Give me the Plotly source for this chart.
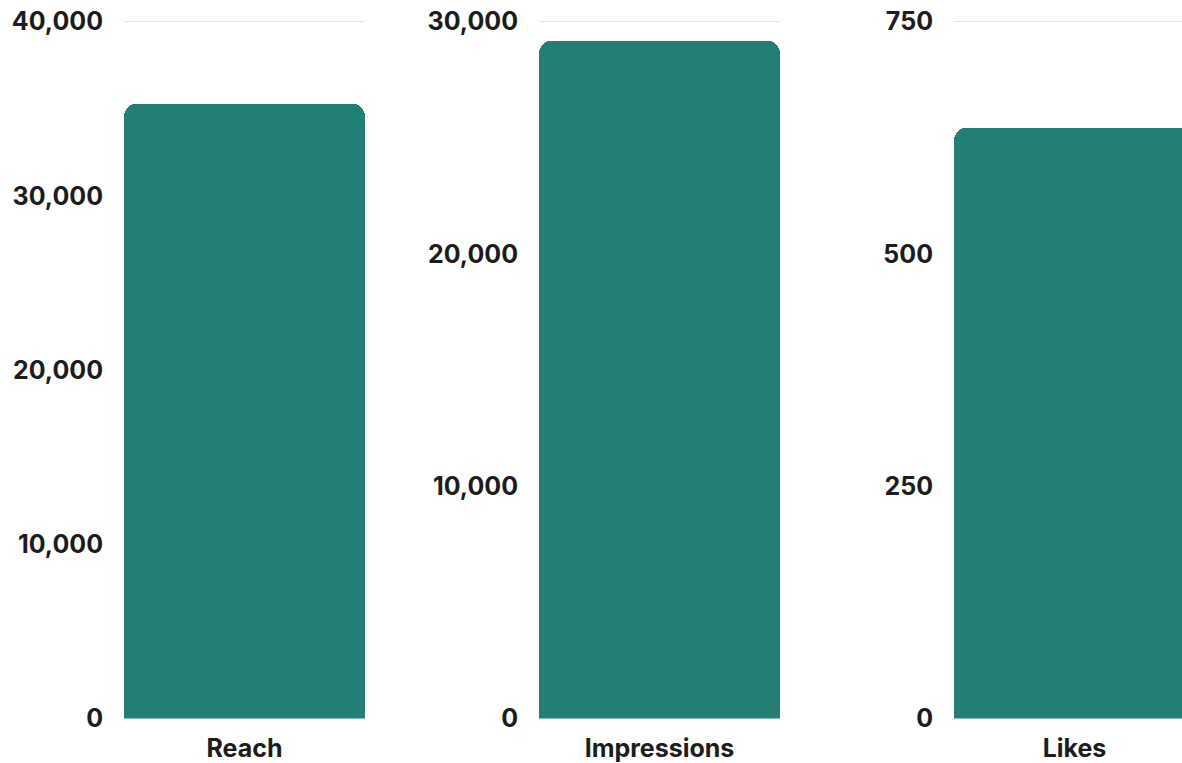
import plotly.graph_objects as go

metrics = ["Reach", "Impressions", "Likes"]
values = [35300, 29200, 636]
ranges = [40000, 30000, 750]
tick_vals = [[0, 10000, 20000, 30000, 40000],
             [0, 10000, 20000, 30000],
             [0, 250, 500, 750]]
tick_text = [["0", "10,000", "20,000", "30,000", "40,000"],
             ["0", "10,000", "20,000", "30,000"],
             ["0", "250", "500", "750"]]

W, H = 1182, 763
BAR_COLOR = "#217f75"
TEXT = "#1c1c1c"
FONT = "Inter"

plot_left = [124, 539, 954]
plot_w = 241
y_bottom, y_top = 718.5, 21.7
pad = 2  # px above top gridline so it is drawn
span = y_bottom - y_top

fig = go.Figure()
for i, (m, v) in enumerate(zip(metrics, values)):
    xa = "x" if i == 0 else f"x{i+1}"
    ya = "y" if i == 0 else f"y{i+1}"
    fig.add_trace(go.Bar(x=[m], y=[v], marker_color=BAR_COLOR, xaxis=xa, yaxis=ya,
                         width=1, showlegend=False, hoverinfo="skip",
                         marker_line_width=0))
    right = min(plot_left[i] + plot_w, W)
    x0 = plot_left[i] / W
    x1 = right / W
    vis_w = right - plot_left[i]
    xr = [-0.5, -0.5 + vis_w / plot_w]
    key = "" if i == 0 else str(i + 1)
    ymax = ranges[i] * (1 + pad / span)
    fig.update_layout(**{
        f"xaxis{key}": dict(domain=[x0, x1], range=xr, anchor=ya, showgrid=False,
                            zeroline=False, showline=False, ticks="",
                            tickfont=dict(family=FONT, size=25, color=TEXT, weight=700),
                            fixedrange=True, automargin=False, ticklabelstandoff=12,
                            ticklabeloverflow="allow"),
        f"yaxis{key}": dict(domain=[(H - y_bottom) / H, (H - y_top + pad) / H], anchor=xa,
                            range=[0, ymax], tickvals=tick_vals[i], ticktext=tick_text[i],
                            showgrid=True, gridcolor="#e3e3e3", gridwidth=1,
                            zeroline=False, showline=False, ticks="",
                            tickfont=dict(family=FONT, size=25, color=TEXT, weight=700),
                            ticklabelstandoff=20, automargin=False, fixedrange=True,
                            ticklabeloverflow="allow"),
    })

fig.update_layout(
    width=W, height=H,
    margin=dict(l=0, r=0, t=0, b=0),
    paper_bgcolor="white", plot_bgcolor="white",
    bargap=0, barcornerradius=13,
    font=dict(family=FONT, color=TEXT),
)

fig.write_html(
    "out.html",
    config={"displayModeBar": False, "responsive": False},
    post_script="document.body.style.margin='0';document.body.style.overflow='hidden';",
)
